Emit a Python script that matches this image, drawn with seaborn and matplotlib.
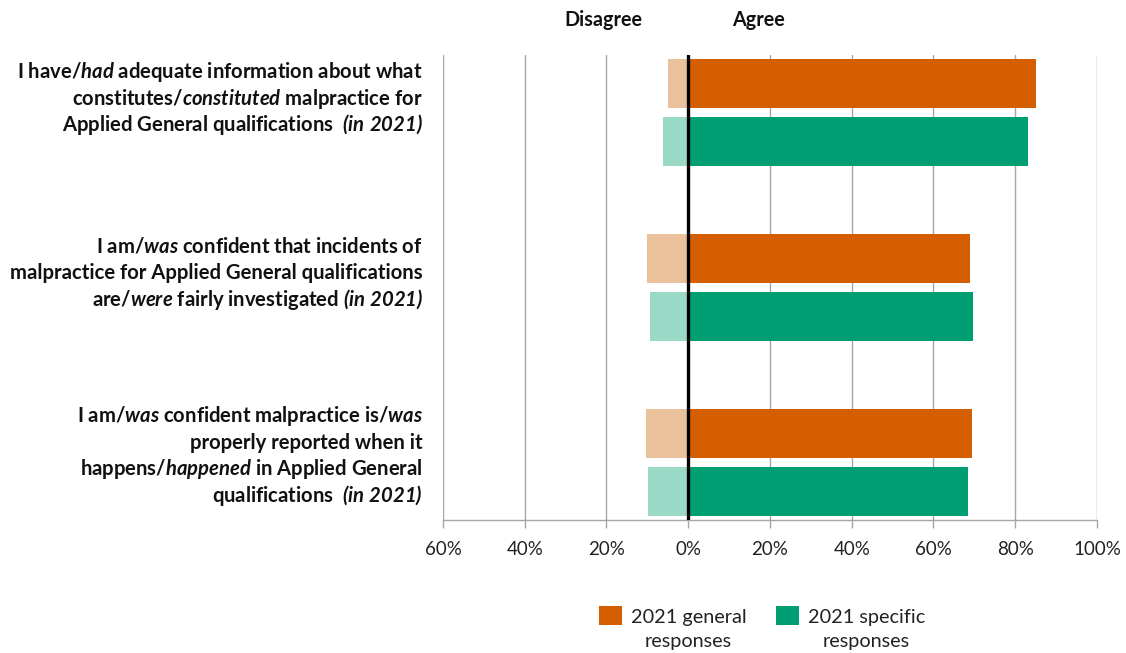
import matplotlib
matplotlib.use("Agg")
import matplotlib.pyplot as plt
import seaborn as sns
import pandas as pd
from matplotlib.patches import Patch, Rectangle
from matplotlib.legend_handler import HandlerPatch

# --- data -------------------------------------------------------------
questions = ["Q1", "Q2", "Q3"]
question_lines = [
    ["I have/$\\mathit{had}$ adequate information about what",
     "constitutes/$\\mathit{constituted}$ malpractice for",
     "Applied General qualifications  $\\mathit{(in\\ 2021)}$"],
    ["I am/$\\mathit{was}$ confident that incidents of",
     "malpractice for Applied General qualifications",
     "are/$\\mathit{were}$ fairly investigated $\\mathit{(in\\ 2021)}$"],
    ["I am/$\\mathit{was}$ confident malpractice is/$\\mathit{was}$",
     "properly reported when it",
     "happens/$\\mathit{happened}$ in Applied General",
     "qualifications  $\\mathit{(in\\ 2021)}$"],
]
groups = ["2021 general\nresponses", "2021 specific\nresponses"]
agree_general = [85.0, 69.0, 69.5]
agree_specific = [83.1, 69.7, 68.4]
disagree_general = [5.0, 10.0, 10.3]
disagree_specific = [6.2, 9.4, 9.8]
tick_values = [-60, -40, -20, 0, 20, 40, 60, 80, 100]

dark_colors = ["#D55E00", "#009E73"]
light_colors = ["#EBC19B", "#9BD9C7"]

# --- tidy frame --------------------------------------------------------
rows = []
for q, ag, asp, dg, dsp in zip(questions, agree_general, agree_specific,
                               disagree_general, disagree_specific):
    rows.append((q, groups[0], ag, -dg))
    rows.append((q, groups[1], asp, -dsp))
df = pd.DataFrame(rows, columns=["question", "group", "agree", "disagree"])

# --- style --------------------------------------------------------------
sns.set_theme(style="white")
plt.rcParams["font.family"] = ["Lato", "DejaVu Sans"]
plt.rcParams["mathtext.fontset"] = "custom"
plt.rcParams["mathtext.it"] = "Lato:style=italic:weight=bold"
plt.rcParams["mathtext.rm"] = "Lato:style=italic:weight=bold"
plt.rcParams["mathtext.bf"] = "Lato:style=italic:weight=bold"

DPI = 100
fig = plt.figure(figsize=(11.26, 6.53), dpi=DPI)
ax = fig.add_axes([0.3934, 0.2037, 0.5808, 0.7121])

bar_kw = dict(y="question", hue="group", hue_order=groups, orient="h",
              width=0.663, gap=0.155, order=questions, ax=ax,
              edgecolor="none", saturation=1, zorder=2)
sns.barplot(data=df, x="agree", palette=dark_colors, legend=False, **bar_kw)
sns.barplot(data=df, x="disagree", palette=light_colors, legend=False, **bar_kw)

ax.set_xlim(-60, 100)
ax.set_ylim(2.33, -0.33)

# vertical gridlines and zero line
for v in tick_values:
    if v != 0:
        ax.axvline(v, color="#A6A6A6", lw=1, zorder=0)
ax.axvline(0, color="black", lw=2.4, zorder=3)

ax.set_xticks(tick_values)
ax.set_xticklabels([f"{abs(v)}%" for v in tick_values], fontsize=13.5,
                   color="#222222")
ax.tick_params(axis="x", direction="out", length=6, width=1,
               color="#A6A6A6", pad=9, bottom=True)
ax.set_yticks(range(len(questions)))
ax.set_yticklabels([])
ax.tick_params(axis="y", length=0)
ax.set_xlabel("")
ax.set_ylabel("")

for side in ["top", "right", "left"]:
    ax.spines[side].set_visible(False)
ax.spines["bottom"].set_color("#A6A6A6")
ax.spines["bottom"].set_linewidth(1)

# category labels: right-aligned, one text per line on a fixed line pitch
px = 72.0 / DPI
line_pitch = 26.5 * px
ytrans = ax.get_yaxis_transform()
for i, lines in enumerate(question_lines):
    n = len(lines)
    mid = (-8 + 7.5 * (n - 3)) * px
    for k, line in enumerate(lines):
        dy = mid + (k - (n - 1) / 2) * line_pitch
        ax.annotate(line, xy=(0, i), xycoords=ytrans,
                    xytext=(-20 * px, -dy), textcoords="offset points",
                    ha="right", va="baseline", fontsize=14.6,
                    fontweight="bold", color="#111111",
                    annotation_clip=False)

# column headers
ax.text(-20.8, -0.496, "Disagree", ha="center", va="baseline",
        fontsize=14.2, fontweight="bold", color="#111111")
ax.text(17.2, -0.496, "Agree", ha="center", va="baseline",
        fontsize=14.2, fontweight="bold", color="#111111")


# legend: swatch aligned with the first line of each two-line label
def raised_patch(legend, orig_handle, xdescent, ydescent, width, height,
                 fontsize):
    return Rectangle((-xdescent, -ydescent + 0.72 * fontsize), width, height)


handles = [Patch(facecolor=c, edgecolor="none") for c in dark_colors]
leg = fig.legend(handles, groups, loc="upper center",
                 bbox_to_anchor=(0.6767, 0.094), ncol=2, frameon=False,
                 fontsize=14.3, handlelength=1.16, handleheight=1.16,
                 columnspacing=1.5, handletextpad=0.45,
                 handler_map={Patch: HandlerPatch(patch_func=raised_patch)})
for t in leg.get_texts():
    t.set_multialignment("center")
    t.set_linespacing(1.44)
    t.set_color("#222222")

fig.savefig("out.png", dpi=DPI)
